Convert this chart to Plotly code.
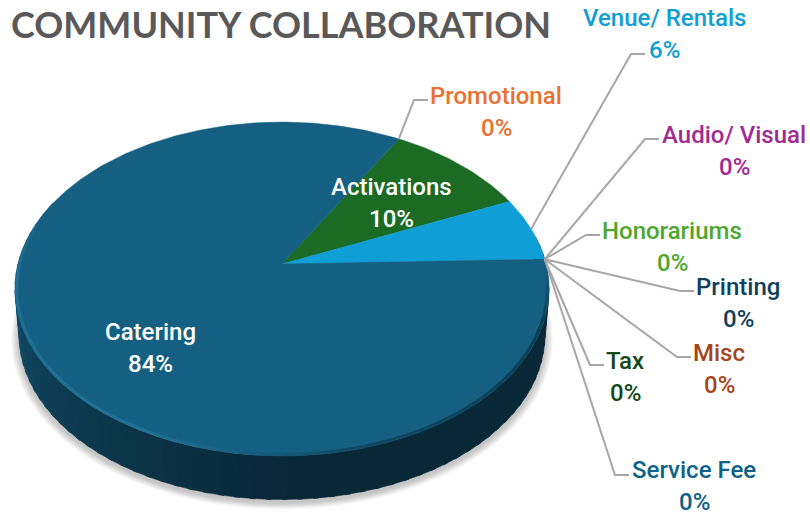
import math
import plotly.graph_objects as go

# Pie data, clockwise from the top-right
categories = ["Promotional", "Activations", "Venue/ Rentals", "Audio/ Visual", "Honorariums",
              "Printing", "Misc", "Tax", "Service Fee", "Catering"]
values = [0, 10, 6.2, 0, 0, 0, 0, 0, 0, 83.8]
slice_colors = ["#ED7D31", "#1B6B25", "#0F9ED5", "#A02B93", "#4EA72E",
                "#0F3F5C", "#A5451A", "#144A1A", "#0E6287", "#156082"]
label_colors = ["#E97132", "#FFFFFF", "#0F9ED5", "#A02B93", "#4EA72E",
                "#0F3F5C", "#A5451A", "#144A1A", "#0E6287", "#FFFFFF"]

TITLE = "COMMUNITY COLLABORATION"
START_ANGLE = 30  # degrees clockwise from the back of the pie

# where the pie sits on the 810x516 page
CX, CY = 282, 264
RX = 264
RY = 163.2
PERSP = 0.15
DEPTH = 47
BOTTOM_R = 0.985

# label centre and leader elbow, same order as categories
label_pos = [(496, 96), (391, 187), (664, 18), (734, 135), (672, 231),
             (738, 287), (719, 353), (625, 361), (694, 470), (150, 332)]
elbows = [(414, 100), None, (631, 54), (645, 139), (586, 235),
          (680, 291), (677, 357), (590, 365), (615, 475), None]


def project(ang, r=1.0, drop=0.0):
    # ang is clockwise from the back, disc tilted with a bit of perspective
    u = r * math.sin(ang)
    v = -r * math.cos(ang)
    w = 1 - PERSP * v
    return CX + RX * u / w, CY + RY * v / w + drop


def arc(a0, a1, r=1.0, drop=0.0, step=1.0):
    n = max(2, int(abs(math.degrees(a1 - a0)) / step) + 1)
    pts = [project(a0 + (a1 - a0) * i / (n - 1), r, drop) for i in range(n)]
    return [p[0] for p in pts], [p[1] for p in pts]


def mix(c0, c1, t):
    return "rgb(%d,%d,%d)" % tuple(c0[i] + (c1[i] - c0[i]) * t for i in range(3))


def ramp(stops, d):
    # colour at angle d on a list of (angle, rgb) stops
    if d <= stops[0][0]:
        return mix(stops[0][1], stops[0][1], 0)
    for (d0, c0), (d1, c1) in zip(stops, stops[1:]):
        if d0 <= d <= d1:
            return mix(c0, c1, (d - d0) / (d1 - d0))
    return mix(stops[-1][1], stops[-1][1], 0)


fig = go.Figure()

# soft shadow under the disc
for i in range(10):
    grow = BOTTOM_R + 0.003 * (10 - i)
    x, y = arc(math.radians(60), math.radians(300), grow, DEPTH + 3)
    fig.add_trace(go.Scatter(x=x, y=y, mode="lines", fill="toself", line=dict(width=0),
                             fillcolor="rgba(0,0,0,0.022)", hoverinfo="skip", showlegend=False))

# side wall, cut in strips for the shading
wall_stops = [(80, (10, 40, 55)), (180, (9, 40, 56)), (235, (14, 62, 86)), (285, (21, 86, 116))]
for deg in range(80, 282, 3):
    a0, a1 = math.radians(deg), math.radians(deg + 4)
    xt, yt = arc(a0, a1)
    xb, yb = arc(a1, a0, BOTTOM_R, DEPTH)
    col = ramp(wall_stops, deg + 2)
    fig.add_trace(go.Scatter(x=xt + xb, y=yt + yb, mode="lines", fill="toself", line=dict(width=0.5, color=col),
                             fillcolor=col, hoverinfo="skip", showlegend=False))

# top face
total = sum(values)
angle = START_ANGLE
spans = []
for name, val, col in zip(categories, values, slice_colors):
    sweep = val / total * 360
    spans.append((angle, angle + sweep))
    if val > 0:
        x, y = arc(math.radians(angle), math.radians(angle + sweep))
        fig.add_trace(go.Scatter(x=[CX] + x + [CX], y=[CY] + y + [CY], mode="lines", fill="toself",
                                 line=dict(width=0.5, color=col), fillcolor=col, name=name,
                                 hoverinfo="name", showlegend=False))
    angle += sweep

# bevel along the front edge: dark on the right, light on the left
rim_stops = [(92, (21, 96, 130)), (110, (14, 62, 84)), (165, (16, 72, 98)), (205, (32, 112, 150)),
             (265, (32, 112, 150)), (290, (21, 96, 130))]
for deg in range(92, 290, 4):
    x, y = arc(math.radians(deg), math.radians(deg + 5), 0.994)
    fig.add_trace(go.Scatter(x=x, y=y, mode="lines", line=dict(width=3, color=ramp(rim_stops, deg + 2)),
                             hoverinfo="skip", showlegend=False))

# leader lines run from the slice edge to the elbow and on to the label
for (a0, a1), elbow, pos in zip(spans, elbows, label_pos):
    if elbow is None:
        continue
    px, py = project(math.radians((a0 + a1) / 2))
    end_x = elbow[0] + 14
    fig.add_trace(go.Scatter(x=[px, elbow[0], end_x], y=[py, elbow[1], elbow[1]], mode="lines",
                             line=dict(width=2, color="#A6A6A6"), hoverinfo="skip", showlegend=False))

for name, val, col, pos in zip(categories, values, label_colors, label_pos):
    fig.add_annotation(x=pos[0], y=pos[1], text=name, showarrow=False,
                       font=dict(family="Roboto", size=24, color=col, weight=500))
    fig.add_annotation(x=pos[0], y=pos[1] + 32, text="%d%%" % round(val), showarrow=False,
                       font=dict(family="Roboto", size=24, color=col, weight=500))

fig.add_annotation(x=281, y=24, text=TITLE, showarrow=False,
                   font=dict(family="Lato", size=36, color="#595959", weight=700))

fig.update_layout(width=810, height=516, margin=dict(l=0, r=0, t=0, b=0),
                  paper_bgcolor="white", plot_bgcolor="white", showlegend=False,
                  xaxis=dict(range=[0, 810], visible=False, fixedrange=True),
                  yaxis=dict(range=[516, 0], visible=False, fixedrange=True))

fig.write_html("out.html", config=dict(displayModeBar=False),
               post_script="document.body.style.margin='0';")
